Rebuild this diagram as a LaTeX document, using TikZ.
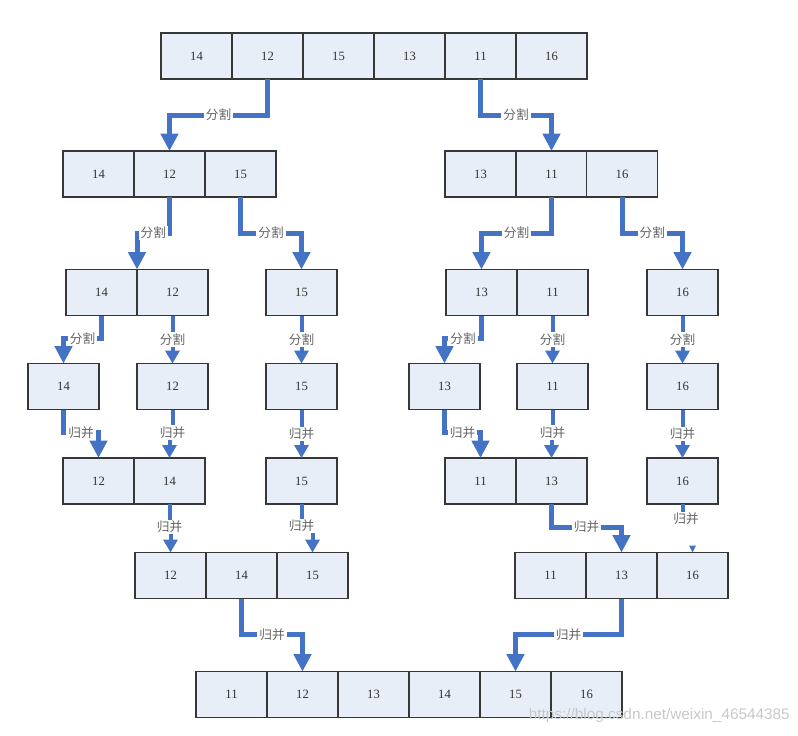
\documentclass[tikz,border=0pt]{standalone}
\usepackage{fontspec}
\setmainfont{Liberation Serif}
\newfontfamily\cjk{Noto Sans CJK SC}
\newfontfamily\wmfont{Liberation Sans}
\usetikzlibrary{arrows.meta,calc}
\definecolor{arrblue}{RGB}{68,114,196}
\definecolor{cellfill}{RGB}{232,238,247}
\definecolor{cellline}{RGB}{55,55,55}
\definecolor{lblgray}{RGB}{100,100,100}
\definecolor{wmgray}{RGB}{200,200,200}
\tikzset{
  cell/.style={draw=cellline, fill=cellfill, line width=0.9pt, minimum width=53.25pt, minimum height=34.5pt, inner sep=0pt, outer sep=0pt, font=\fontsize{9.5}{10}\selectfont, text=black!80},
  arrE/.style={draw=arrblue, line width=3.75pt, -{Triangle[width=12.75pt,length=13pt]}},
  arrS/.style={draw=arrblue, line width=3pt, -{Triangle[width=10.5pt,length=9.75pt]}},
  lbl/.style={fill=white, inner xsep=1.5pt, inner ysep=1pt, text=lblgray, font=\cjk\fontsize{9.5}{10}\selectfont},
  wm/.style={text=wmgray, font=\wmfont\fontsize{11.5}{13}\selectfont, inner sep=0pt}
}
\begin{document}
\begin{tikzpicture}[x=0.75pt,y=-0.75pt]
\useasboundingbox (0,0) rectangle (798,735);
% row 1
\node[cell] (r1a) at (196.5,56) {14};
\node[cell] (r1b) at (267.5,56) {12};
\node[cell] (r1c) at (338.5,56) {15};
\node[cell] (r1d) at (409.5,56) {13};
\node[cell] (r1e) at (480.5,56) {11};
\node[cell] (r1f) at (551.5,56) {16};
% row 2
\node[cell] (r2a) at (98.5,174) {14};
\node[cell] (r2b) at (169.5,174) {12};
\node[cell] (r2c) at (240.5,174) {15};
\node[cell] (r2d) at (480.5,174) {13};
\node[cell] (r2e) at (551.5,174) {11};
\node[cell] (r2f) at (622,174) {16};
% row 3
\node[cell] (r3a) at (101.5,292.5) {14};
\node[cell] (r3b) at (172.5,292.5) {12};
\node[cell] (r3c) at (301.5,292.5) {15};
\node[cell] (r3d) at (481.5,292.5) {13};
\node[cell] (r3e) at (552.5,292.5) {11};
\node[cell] (r3f) at (682.5,292.5) {16};
% row 4
\node[cell] (r4a) at (63.5,386.5) {14};
\node[cell] (r4b) at (172.5,386.5) {12};
\node[cell] (r4c) at (301.5,386.5) {15};
\node[cell] (r4d) at (444.5,386.5) {13};
\node[cell] (r4e) at (552.5,386.5) {11};
\node[cell] (r4f) at (682.5,386.5) {16};
% row 5
\node[cell] (r5a) at (98.5,481) {12};
\node[cell] (r5b) at (169.5,481) {14};
\node[cell] (r5c) at (301.5,481) {15};
\node[cell] (r5d) at (480.5,481) {11};
\node[cell] (r5e) at (551.5,481) {13};
\node[cell] (r5f) at (682.5,481) {16};
% row 6
\node[cell] (r6a) at (170.5,575.5) {12};
\node[cell] (r6b) at (241.5,575.5) {14};
\node[cell] (r6c) at (312.5,575.5) {15};
\node[cell] (r6d) at (550.5,575.5) {11};
\node[cell] (r6e) at (621.5,575.5) {13};
\node[cell] (r6f) at (692.5,575.5) {16};
% row 7
\node[cell] (r7a) at (231.5,694.5) {11};
\node[cell] (r7b) at (302.5,694.5) {12};
\node[cell] (r7c) at (373.5,694.5) {13};
\node[cell] (r7d) at (444.5,694.5) {14};
\node[cell] (r7e) at (515.5,694.5) {15};
\node[cell] (r7f) at (586.5,694.5) {16};
% split arrows
\draw[arrE] (r1b.south) -- ++(0,36) -| node[lbl,pos=.25]{分割} (r2b.north);
\draw[arrE] (r1e.south) -- ++(0,36) -| node[lbl,pos=.25]{分割} (r2e.north);
\draw[arrE] (r2b.south) -- ++(0,36) -| node[lbl,pos=.25]{分割} (r3a.north east);
\draw[arrE] (r2c.south) -- ++(0,36) -| node[lbl,pos=.25]{分割} (r3c.north);
\draw[arrE] (r2e.south) -- ++(0,36) -| node[lbl,pos=.25]{分割} (r3d.north);
\draw[arrE] (r2f.south) -- ++(0,36) -| node[lbl,pos=.25]{分割} (r3f.north);
\draw[arrE] (r3a.south) -- ++(0,23) -| node[lbl,pos=.25]{分割} (r4a.north);
\draw[arrS] (r3b.south) -- node[lbl]{分割} (r4b.north);
\draw[arrS] (r3c.south) -- node[lbl]{分割} (r4c.north);
\draw[arrE] (r3d.south) -- ++(0,23) -| node[lbl,pos=.25]{分割} (r4d.north);
\draw[arrS] (r3e.south) -- node[lbl]{分割} (r4e.north);
\draw[arrS] (r3f.south) -- node[lbl]{分割} (r4f.north);
% merge arrows
\draw[arrE] (r4a.south) -- ++(0,23) -| node[lbl,pos=.25]{归并} (r5a.north);
\draw[arrS] (r4b.south) -- ++(0,23) node[lbl]{归并} -| (r5b.north);
\draw[arrS] (r4c.south) -- node[lbl]{归并} (r5c.north);
\draw[arrE] (r4d.south) -- ++(0,23) -| node[lbl,pos=.25]{归并} (r5d.north);
\draw[arrS] (r4e.south) -- ++(0,23) node[lbl]{归并} -| (r5e.north);
\draw[arrS] (r4f.south) -- node[lbl]{归并} (r5f.north);
\draw[arrS] (r5b.south) -- ++(0,23) node[lbl]{归并} -| (r6a.north);
\draw[arrS] (r5c.south) -- ++(0,22) node[lbl]{归并} -| (r6c.north);
\draw[arrE] (r5e.south) -- ++(0,23) -| node[lbl,pos=.25]{归并} (r6e.north);
\draw[draw=arrblue, line width=3pt] (r5f.south) -- ++(0,8) coordinate (k16);
\node[lbl] (m16) at ($(r5f.south)+(3.5,15)$) {归并};
\fill[arrblue] ($(r6f.north)+(-3.5,-7)$) -- ++(7,0) -- (r6f.north) -- cycle;
\draw[arrE] (r6b.south) -- ++(0,36) -| node[lbl,pos=.25]{归并} (r7b.north);
\draw[arrE] (r6e.south) -- ++(0,36) -| node[lbl,pos=.25]{归并} (r7e.north);
% watermark
\node[wm, anchor=east] (wm) at (790,716) {https://blog.csdn.net/weixin\_46544385};
\end{tikzpicture}
\end{document}
